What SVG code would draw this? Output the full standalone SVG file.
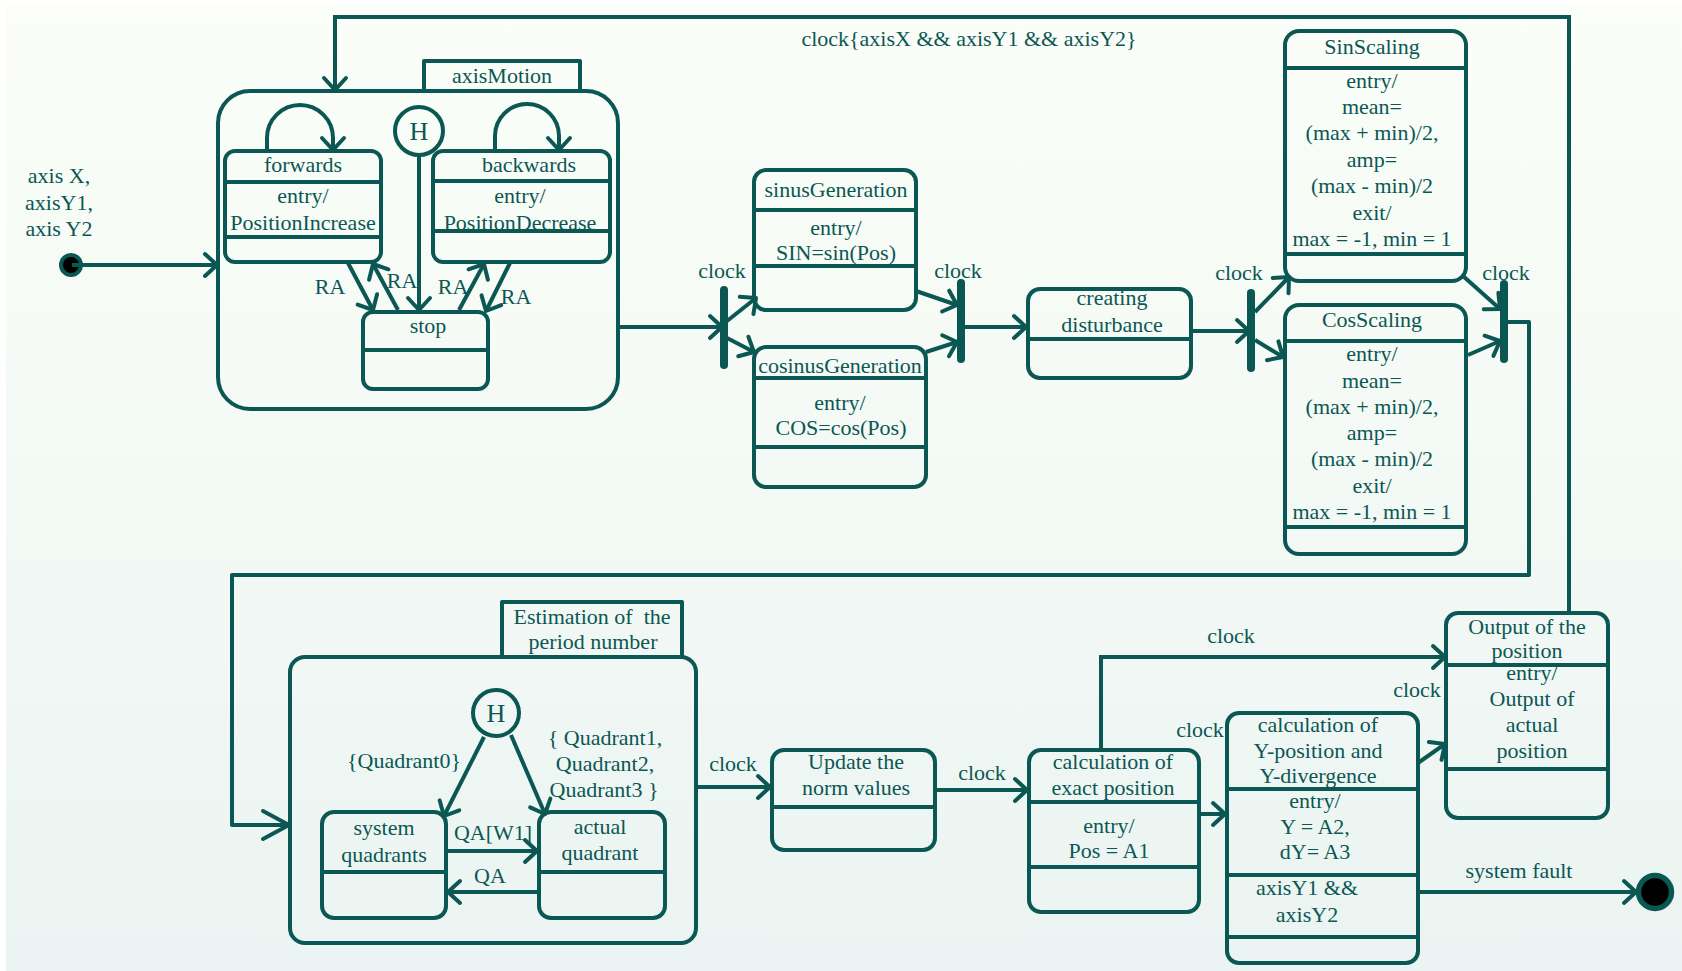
<svg xmlns="http://www.w3.org/2000/svg" width="1682" height="971" viewBox="0 0 1682 971">
<defs>
<linearGradient id="bg" x1="0" y1="0" x2="0" y2="1">
<stop offset="0" stop-color="#fbfef8"/>
<stop offset="1" stop-color="#ebf4f2"/>
</linearGradient>
<marker id="a" markerUnits="userSpaceOnUse" markerWidth="20" markerHeight="28" viewBox="-2 -14 18 28" refX="13" refY="0" orient="auto" overflow="visible">
<path d="M1,-11 L13,0 L1,11" fill="none" stroke="#0b5753" stroke-width="4" stroke-linecap="round" stroke-linejoin="round"/>
</marker>
<marker id="b" markerUnits="userSpaceOnUse" markerWidth="34" markerHeight="34" viewBox="-2 -17 34 34" refX="27" refY="0" orient="auto" overflow="visible">
<path d="M1,-14 L27,0 L1,14" fill="none" stroke="#0b5753" stroke-width="4" stroke-linecap="round" stroke-linejoin="round"/>
</marker>
<style>
.s{fill:none;stroke:#0b5753;stroke-width:4;stroke-linejoin:round}
.c{fill:none;stroke:#0b5753;stroke-width:4;stroke-linejoin:miter;marker-end:url(#a)}
.bar{stroke:#0b5753;stroke-width:8;stroke-linecap:round}
text{font-family:"Liberation Serif","Times New Roman",serif;font-size:22px;fill:#0b5753;text-anchor:middle}
.h{font-size:26px}
</style>
</defs>
<rect x="0" y="0" width="1682" height="971" fill="#ffffff"/>
<rect x="6" y="5" width="1676" height="966" fill="url(#bg)"/>

<g id="initial">
<circle cx="71" cy="265" r="10" fill="#000" stroke="#0b5753" stroke-width="4"/>
<text x="59" y="183">axis X,</text>
<text x="59" y="210">axisY1,</text>
<text x="59" y="236">axis Y2</text>
</g>

<g id="axisMotion">
<rect class="s" x="218" y="91" width="400" height="318" rx="32"/>
<rect class="s" x="424" y="61" width="156" height="30"/>
<text x="502" y="83">axisMotion</text>
</g>

<g id="forwards">
<rect class="s" x="225" y="151" width="156" height="111" rx="10"/>
<line class="s" x1="225" y1="182" x2="381" y2="182"/>
<line class="s" x1="225" y1="237" x2="381" y2="237"/>
<text x="303" y="172">forwards</text>
<text x="303" y="203">entry/</text>
<text x="303" y="230">PositionIncrease</text>
</g>

<g id="backwards">
<rect class="s" x="433" y="151" width="177" height="111" rx="10"/>
<line class="s" x1="433" y1="181" x2="610" y2="181"/>
<line class="s" x1="433" y1="231" x2="610" y2="231"/>
<text x="529" y="172">backwards</text>
<text x="520" y="203">entry/</text>
<text x="520" y="230">PositionDecrease</text>
</g>

<g id="history1">
<circle class="s" cx="419" cy="131" r="24"/>
<text class="h" x="419" y="140">H</text>
</g>

<g id="stop">
<rect class="s" x="363" y="312" width="125" height="77" rx="10"/>
<line class="s" x1="363" y1="350" x2="488" y2="350"/>
<text x="428" y="333">stop</text>
</g>

<g id="sinusGeneration">
<rect class="s" x="754" y="170" width="162" height="140" rx="12"/>
<line class="s" x1="754" y1="210" x2="916" y2="210"/>
<line class="s" x1="754" y1="266" x2="916" y2="266"/>
<text x="836" y="197">sinusGeneration</text>
<text x="836" y="235">entry/</text>
<text x="836" y="260">SIN=sin(Pos)</text>
</g>

<g id="cosinusGeneration">
<rect class="s" x="754" y="347" width="172" height="140" rx="12"/>
<line class="s" x1="754" y1="378" x2="926" y2="378"/>
<line class="s" x1="754" y1="447" x2="926" y2="447"/>
<text x="840" y="373">cosinusGeneration</text>
<text x="840" y="410">entry/</text>
<text x="841" y="435">COS=cos(Pos)</text>
</g>

<g id="fork1"><line class="bar" x1="724" y1="290" x2="724" y2="365"/></g>
<g id="join1"><line class="bar" x1="961" y1="283" x2="961" y2="359"/></g>

<g id="creatingDisturbance">
<rect class="s" x="1028" y="289" width="163" height="89" rx="12"/>
<line class="s" x1="1028" y1="339" x2="1191" y2="339"/>
<text x="1112" y="305">creating</text>
<text x="1112" y="332">disturbance</text>
</g>

<g id="fork2"><line class="bar" x1="1251" y1="293" x2="1251" y2="368"/></g>
<g id="join2"><line class="bar" x1="1504" y1="284" x2="1504" y2="359"/></g>

<g id="SinScaling">
<rect class="s" x="1285" y="31" width="181" height="250" rx="14"/>
<line class="s" x1="1285" y1="68" x2="1466" y2="68"/>
<line class="s" x1="1285" y1="254" x2="1466" y2="254"/>
<text x="1372" y="54">SinScaling</text>
<text x="1372" y="88">entry/</text>
<text x="1372" y="114">mean=</text>
<text x="1372" y="140">(max + min)/2,</text>
<text x="1372" y="167">amp=</text>
<text x="1372" y="193">(max - min)/2</text>
<text x="1372" y="220">exit/</text>
<text x="1372" y="246">max = -1, min = 1</text>
</g>

<g id="CosScaling">
<rect class="s" x="1285" y="305" width="181" height="249" rx="14"/>
<line class="s" x1="1285" y1="341" x2="1466" y2="341"/>
<line class="s" x1="1285" y1="527" x2="1466" y2="527"/>
<text x="1372" y="327">CosScaling</text>
<text x="1372" y="361">entry/</text>
<text x="1372" y="388">mean=</text>
<text x="1372" y="414">(max + min)/2,</text>
<text x="1372" y="440">amp=</text>
<text x="1372" y="466">(max - min)/2</text>
<text x="1372" y="493">exit/</text>
<text x="1372" y="519">max = -1, min = 1</text>
</g>

<g id="estimation">
<rect class="s" x="290" y="657" width="406" height="286" rx="15"/>
<rect class="s" x="502" y="602" width="180" height="55"/>
<text x="592" y="624" xml:space="preserve">Estimation of  the</text>
<text x="593" y="649">period number</text>
</g>

<g id="history2">
<circle class="s" cx="496" cy="713" r="23"/>
<text class="h" x="496" y="722">H</text>
</g>

<g id="systemQuadrants">
<rect class="s" x="322" y="812" width="124" height="106" rx="12"/>
<line class="s" x1="322" y1="872" x2="446" y2="872"/>
<text x="384" y="835">system</text>
<text x="384" y="862">quadrants</text>
</g>

<g id="actualQuadrant">
<rect class="s" x="539" y="812" width="126" height="106" rx="12"/>
<line class="s" x1="539" y1="872" x2="665" y2="872"/>
<text x="600" y="834">actual</text>
<text x="600" y="860">quadrant</text>
</g>

<g id="updateNorm">
<rect class="s" x="772" y="750" width="163" height="100" rx="12"/>
<line class="s" x1="772" y1="807" x2="935" y2="807"/>
<text x="856" y="769">Update the</text>
<text x="856" y="795">norm values</text>
</g>

<g id="calcExact">
<rect class="s" x="1029" y="750" width="170" height="162" rx="12"/>
<line class="s" x1="1029" y1="802" x2="1199" y2="802"/>
<line class="s" x1="1029" y1="867" x2="1199" y2="867"/>
<text x="1113" y="769">calculation of</text>
<text x="1113" y="795">exact position</text>
<text x="1109" y="833">entry/</text>
<text x="1109" y="858">Pos = A1</text>
</g>

<g id="calcY">
<rect class="s" x="1227" y="713" width="191" height="250" rx="12"/>
<line class="s" x1="1227" y1="789" x2="1418" y2="789"/>
<line class="s" x1="1227" y1="875" x2="1418" y2="875"/>
<line class="s" x1="1227" y1="937" x2="1418" y2="937"/>
<text x="1318" y="732">calculation of</text>
<text x="1318" y="758">Y-position and</text>
<text x="1318" y="783">Y-divergence</text>
<text x="1315" y="808">entry/</text>
<text x="1315" y="834">Y = A2,</text>
<text x="1315" y="859">dY= A3</text>
<text x="1307" y="895">axisY1 &amp;&amp;</text>
<text x="1307" y="922">axisY2</text>
</g>

<g id="output">
<rect class="s" x="1446" y="613" width="162" height="205" rx="12"/>
<line class="s" x1="1446" y1="665" x2="1608" y2="665"/>
<line class="s" x1="1446" y1="769" x2="1608" y2="769"/>
<text x="1527" y="634">Output of the</text>
<text x="1527" y="658">position</text>
<text x="1532" y="680">entry/</text>
<text x="1532" y="706">Output of</text>
<text x="1532" y="732">actual</text>
<text x="1532" y="758">position</text>
</g>

<g id="final">
<circle cx="1655" cy="892" r="16.5" fill="#000" stroke="#0b5753" stroke-width="5.5"/>
</g>

<g id="connectors">
<path class="c" d="M72,265 L217,265"/>
<path class="c" d="M1569,613 L1569,17 L335,17 L335,90"/>
<text x="969" y="46">clock{axisX &amp;&amp; axisY1 &amp;&amp; axisY2}</text>
<path class="c" d="M267,151 L267,138 A33,33 0 0 1 333,138 L333,150"/>
<path class="c" d="M495,151 L495,136 A32,32 0 0 1 559,136 L559,150"/>
<path class="c" d="M419,155 L419,310"/>
<path class="c" d="M348,263 L373,310"/>
<path class="c" d="M398,310 L373,264"/>
<path class="c" d="M459,310 L484,264"/>
<path class="c" d="M510,263 L486,311"/>
<text x="330" y="294">RA</text>
<text x="402" y="288">RA</text>
<text x="453" y="294">RA</text>
<text x="516" y="304">RA</text>
<path class="c" d="M618,327 L722,327"/>
<text x="722" y="278">clock</text>
<path class="c" d="M727,321 L756,298"/>
<path class="c" d="M727,338 L754,352"/>
<path class="c" d="M916,291 L957,305"/>
<path class="c" d="M926,352 L957,342"/>
<text x="958" y="278">clock</text>
<path class="c" d="M961,327 L1026,327"/>
<path class="c" d="M1191,331 L1249,331"/>
<text x="1239" y="280">clock</text>
<path class="c" d="M1255,312 L1289,277"/>
<path class="c" d="M1255,340 L1283,357"/>
<path class="c" d="M1463,276 L1500,309"/>
<path class="c" d="M1468,355 L1500,341"/>
<text x="1506" y="280">clock</text>
<path class="s" style="marker-end:url(#b)" d="M1504,322 L1529,322 L1529,575 L232,575 L232,825 L289,825"/>
<path class="c" d="M484,737 L444,816"/>
<path class="c" d="M511,735 L545,814"/>
<text x="404" y="768">{Quadrant0}</text>
<text x="605" y="745">{ Quadrant1,</text>
<text x="605" y="771">Quadrant2,</text>
<text x="604" y="797">Quadrant3 }</text>
<path class="c" d="M446,851 L537,851"/>
<text x="493" y="840">QA[W1]</text>
<path class="c" d="M539,892 L448,892"/>
<text x="490" y="883">QA</text>
<path class="c" d="M696,787 L770,787"/>
<text x="733" y="771">clock</text>
<path class="c" d="M935,790 L1027,790"/>
<text x="982" y="780">clock</text>
<path class="c" d="M1101,750 L1101,657 L1445,657"/>
<text x="1231" y="643">clock</text>
<path class="c" d="M1199,814 L1225,814"/>
<text x="1200" y="737">clock</text>
<path class="c" d="M1418,763 L1445,744"/>
<text x="1417" y="697">clock</text>
<path class="c" d="M1418,892 L1636,892"/>
<text x="1519" y="878">system fault</text>
</g>
</svg>
